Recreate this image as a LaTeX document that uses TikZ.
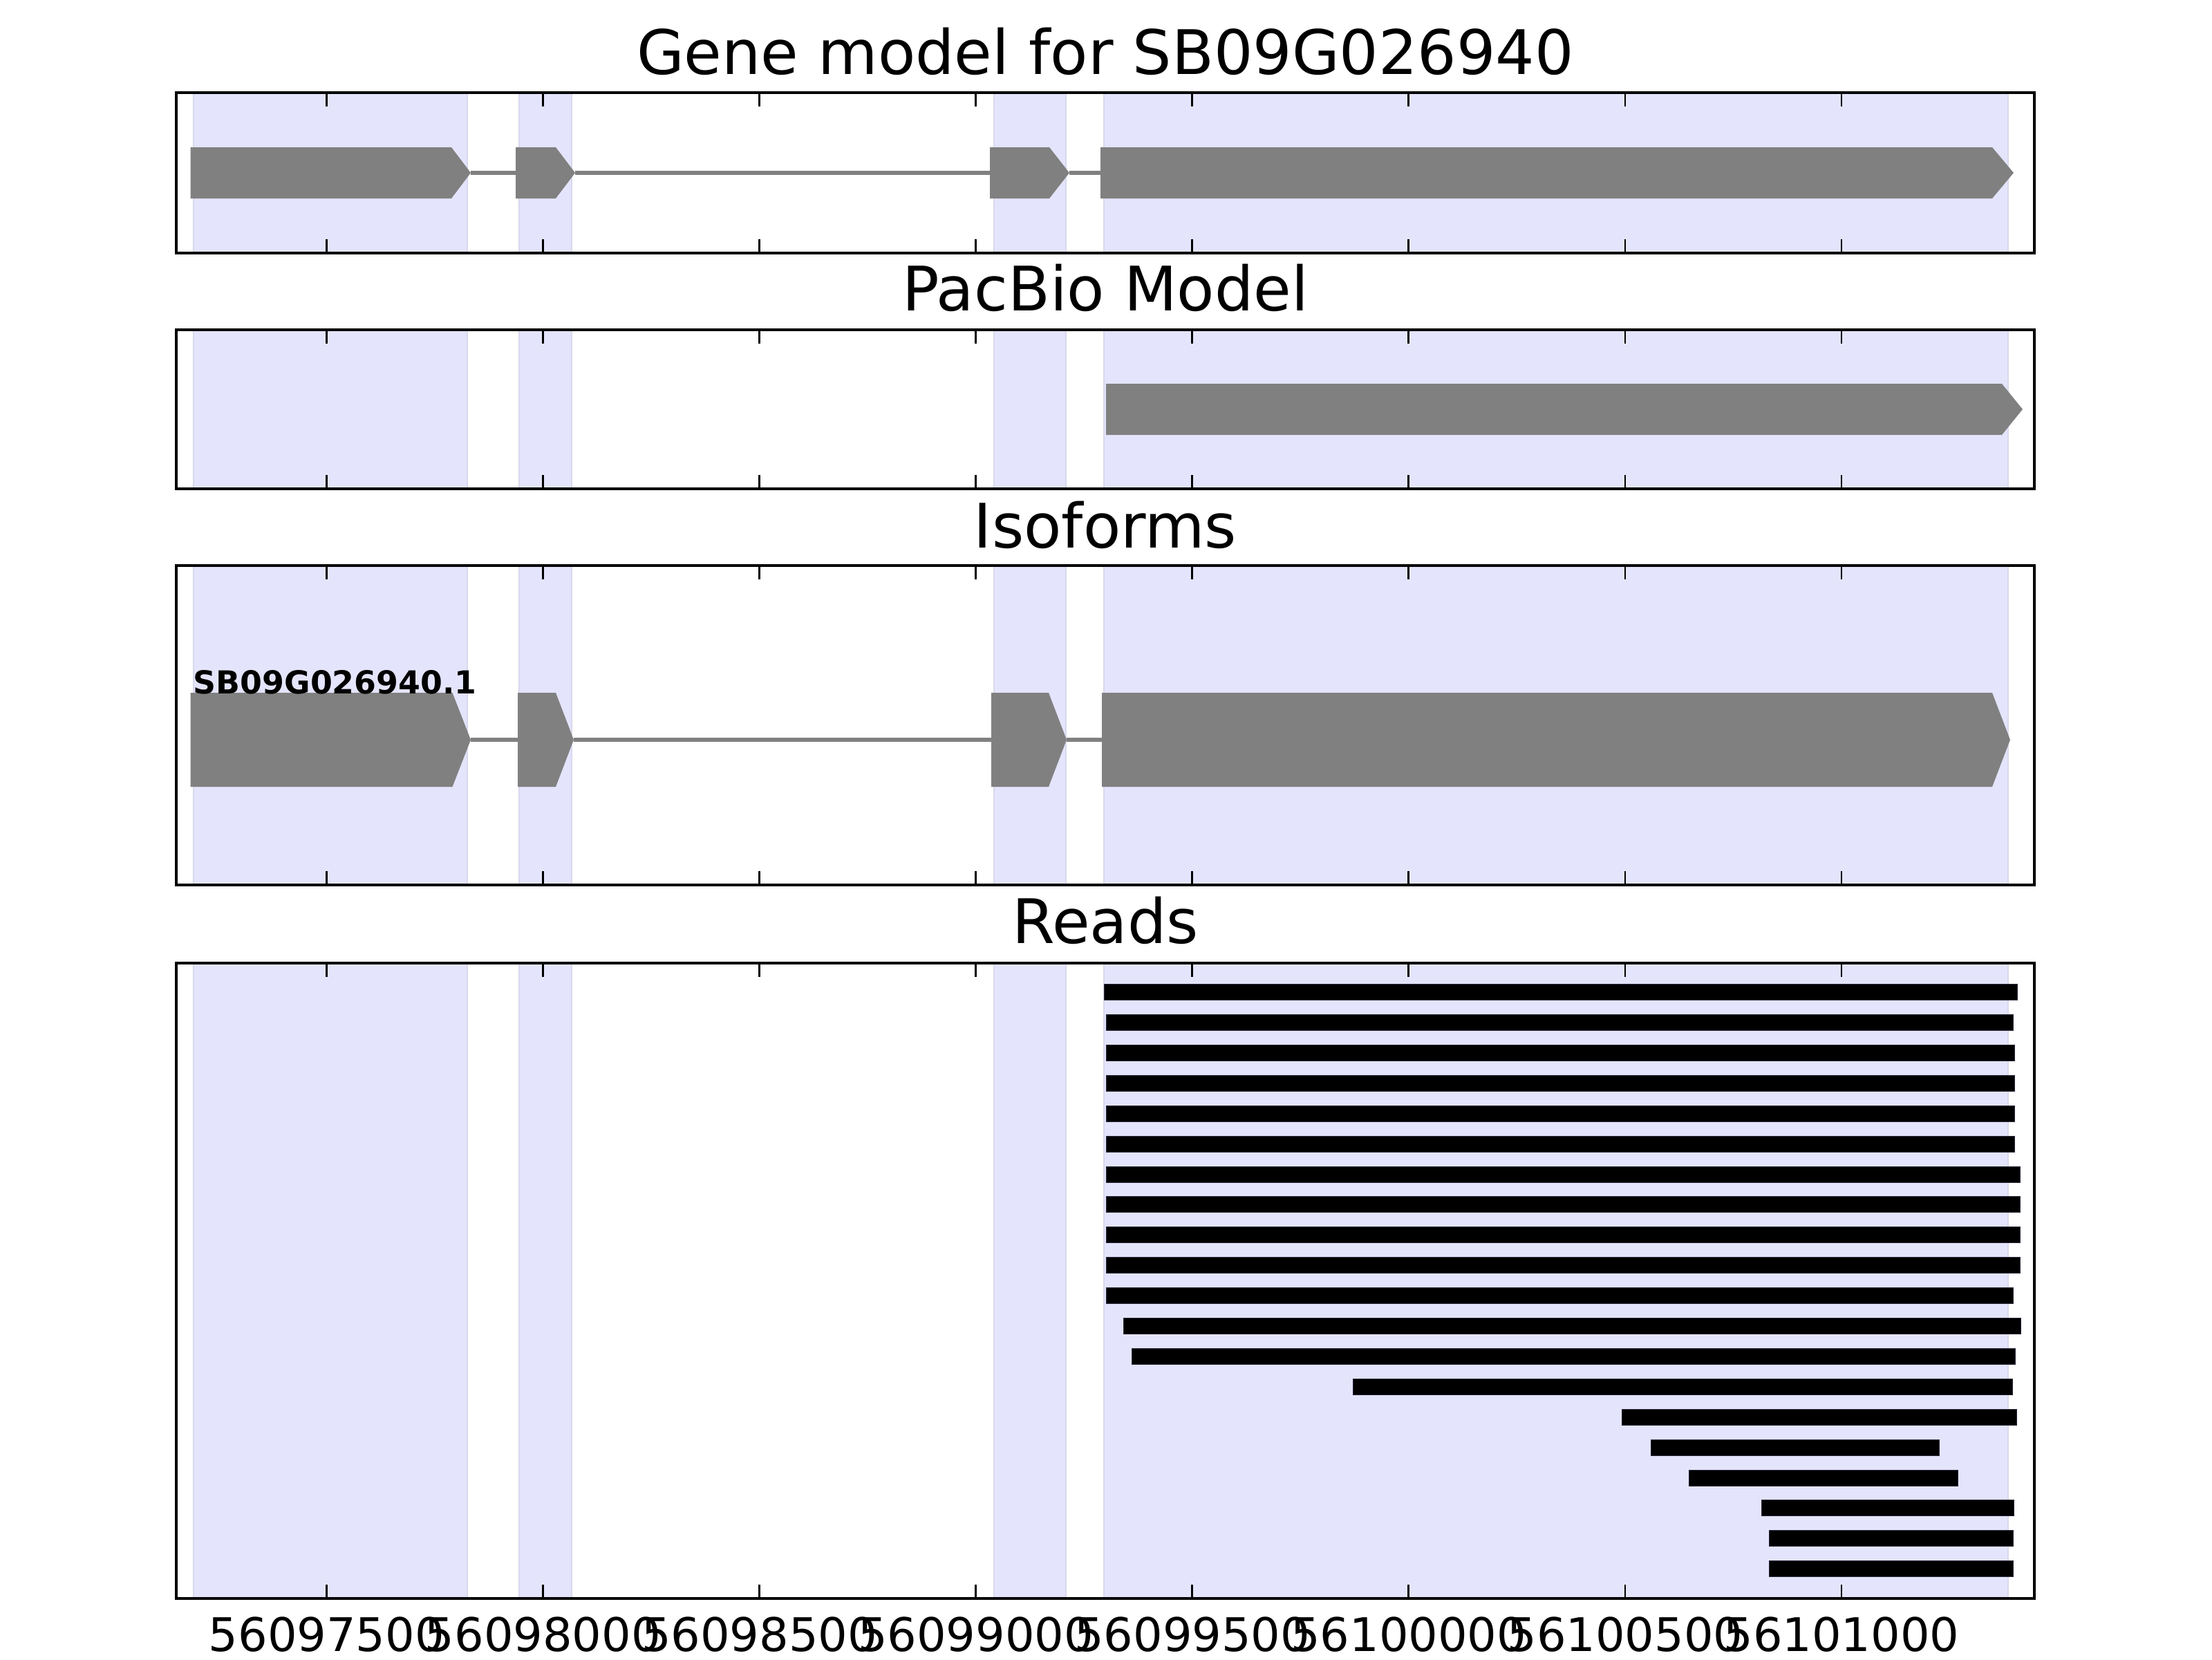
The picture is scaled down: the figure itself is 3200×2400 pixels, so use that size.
\documentclass[tikz,border=0pt]{standalone}
\usepackage{fontspec}
\setmainfont{DejaVu Sans}
\definecolor{spanfill}{RGB}{228,228,252}
\definecolor{spanedge}{RGB}{216,216,236}
\definecolor{exongray}{RGB}{128,128,128}
\definecolor{readedge}{RGB}{40,40,60}
\tikzset{
  spanbox/.style={fill=spanfill},
  spanline/.style={draw=spanedge,line width=0.7pt},
  framebox/.style={draw=black,line width=1.2pt},
  tickmark/.style={draw=black,line width=0.7pt},
  exonshape/.style={fill=exongray},
  intronline/.style={draw=exongray,line width=1.3pt},
  readbar/.style={fill=black,draw=readedge,line width=0.2pt},
  titletext/.style={anchor=base,inner sep=0pt,font=\fontsize{22.2pt}{26pt}\selectfont},
  ticklabel/.style={anchor=base,inner sep=0pt,font=\fontsize{16.75pt}{20pt}\selectfont},
  isolabel/.style={anchor=base west,inner sep=0pt,font=\fontsize{11.45pt}{14pt}\selectfont\bfseries}
}
\newcommand\drawspans[2]{%
  \foreach \a/\b in {280/676,751/827,1438/1542,1597/2905}{%
    \fill[spanbox] (\a,#1) rectangle (\b,#2);
    \draw[spanline] (\a,#1) -- (\a,#2);
    \draw[spanline] (\b,#1) -- (\b,#2);
  }}
\newcommand\drawframe[2]{%
  \foreach \t in {472.3,785.4,1098.5,1411.6,1724.7,2037.8,2350.9,2664.0}{%
    \draw[tickmark] (\t,#1) -- (\t,#1+20);
    \draw[tickmark] (\t,#2) -- (\t,#2-20);
  }
  \draw[framebox] (255,#1) rectangle (2943,#2);}
\newcommand\exonarrow[5]{%
  \fill[exonshape] (#1,#4) -- (#2,#4) -- (#3,{(#4+#5)/2}) -- (#2,#5) -- (#1,#5) -- cycle;}
\begin{document}
\begin{tikzpicture}[x=0.25pt,y=-0.25pt]
\useasboundingbox (0,0) rectangle (3200,2400);
\fill[white] (0,0) rectangle (3200,2400);

% ---------- Panel 1: gene model ----------
\drawspans{134}{366}
\draw[intronline] (681,250) -- (746,250);
\draw[intronline] (832,250) -- (1432,250);
\draw[intronline] (1547,250) -- (1592,250);
\exonarrow{275.6}{653}{681}{213}{287}
\exonarrow{746}{804}{832}{213}{287}
\exonarrow{1432}{1518}{1547}{213}{287}
\exonarrow{1592}{2882}{2913}{213}{287}
\drawframe{134}{366}
\node[titletext] (t1) at (1599,107) {Gene model for SB09G026940};

% ---------- Panel 2: PacBio model ----------
\drawspans{477}{707}
\exonarrow{1600}{2896}{2926}{555}{629}
\drawframe{477}{707}
\node[titletext] (t2) at (1599,449) {PacBio Model};

% ---------- Panel 3: isoforms ----------
\drawspans{818}{1280}
\draw[intronline] (681,1070) -- (749,1070);
\draw[intronline] (830,1070) -- (1434,1070);
\draw[intronline] (1543,1070) -- (1594,1070);
\exonarrow{275.6}{654.5}{681}{1002}{1138}
\exonarrow{749}{804}{830}{1002}{1138}
\exonarrow{1434}{1517}{1543}{1002}{1138}
\exonarrow{1594}{2882}{2908}{1002}{1138}
\drawframe{818}{1280}
\node[titletext] (t3) at (1599,792) {Isoforms};
\node[isolabel] (iso) at (279,1003) {SB09G026940.1};

% ---------- Panel 4: reads ----------
\drawspans{1393}{2312}
\foreach \k/\a/\b in {1/1597/2918,2/1600/2912,3/1600/2914,4/1600/2914,5/1600/2914,
  6/1600/2914,7/1600/2922,8/1600/2922,9/1600/2922,10/1600/2922,11/1600/2912,
  12/1625/2923,13/1637/2915,14/1957/2911,15/2346/2917,16/2388/2805,17/2443/2832,
  18/2548/2913,19/2559/2912.5,20/2559/2912.5}{%
  \filldraw[readbar] (\a,{1435+43.9*(\k-1)-11.5}) rectangle (\b,{1435+43.9*(\k-1)+11.5});
}
\drawframe{1393}{2312}
\node[titletext] (t4) at (1599,1364) {Reads};

% ---------- x tick labels ----------
\node[ticklabel] (l1) at (472.3,2388) {56097500};
\node[ticklabel] (l2) at (785.4,2388) {56098000};
\node[ticklabel] (l3) at (1098.5,2388) {56098500};
\node[ticklabel] (l4) at (1411.6,2388) {56099000};
\node[ticklabel] (l5) at (1724.7,2388) {56099500};
\node[ticklabel] (l6) at (2037.8,2388) {56100000};
\node[ticklabel] (l7) at (2350.9,2388) {56100500};
\node[ticklabel] (l8) at (2664.0,2388) {56101000};
\end{tikzpicture}
\end{document}
